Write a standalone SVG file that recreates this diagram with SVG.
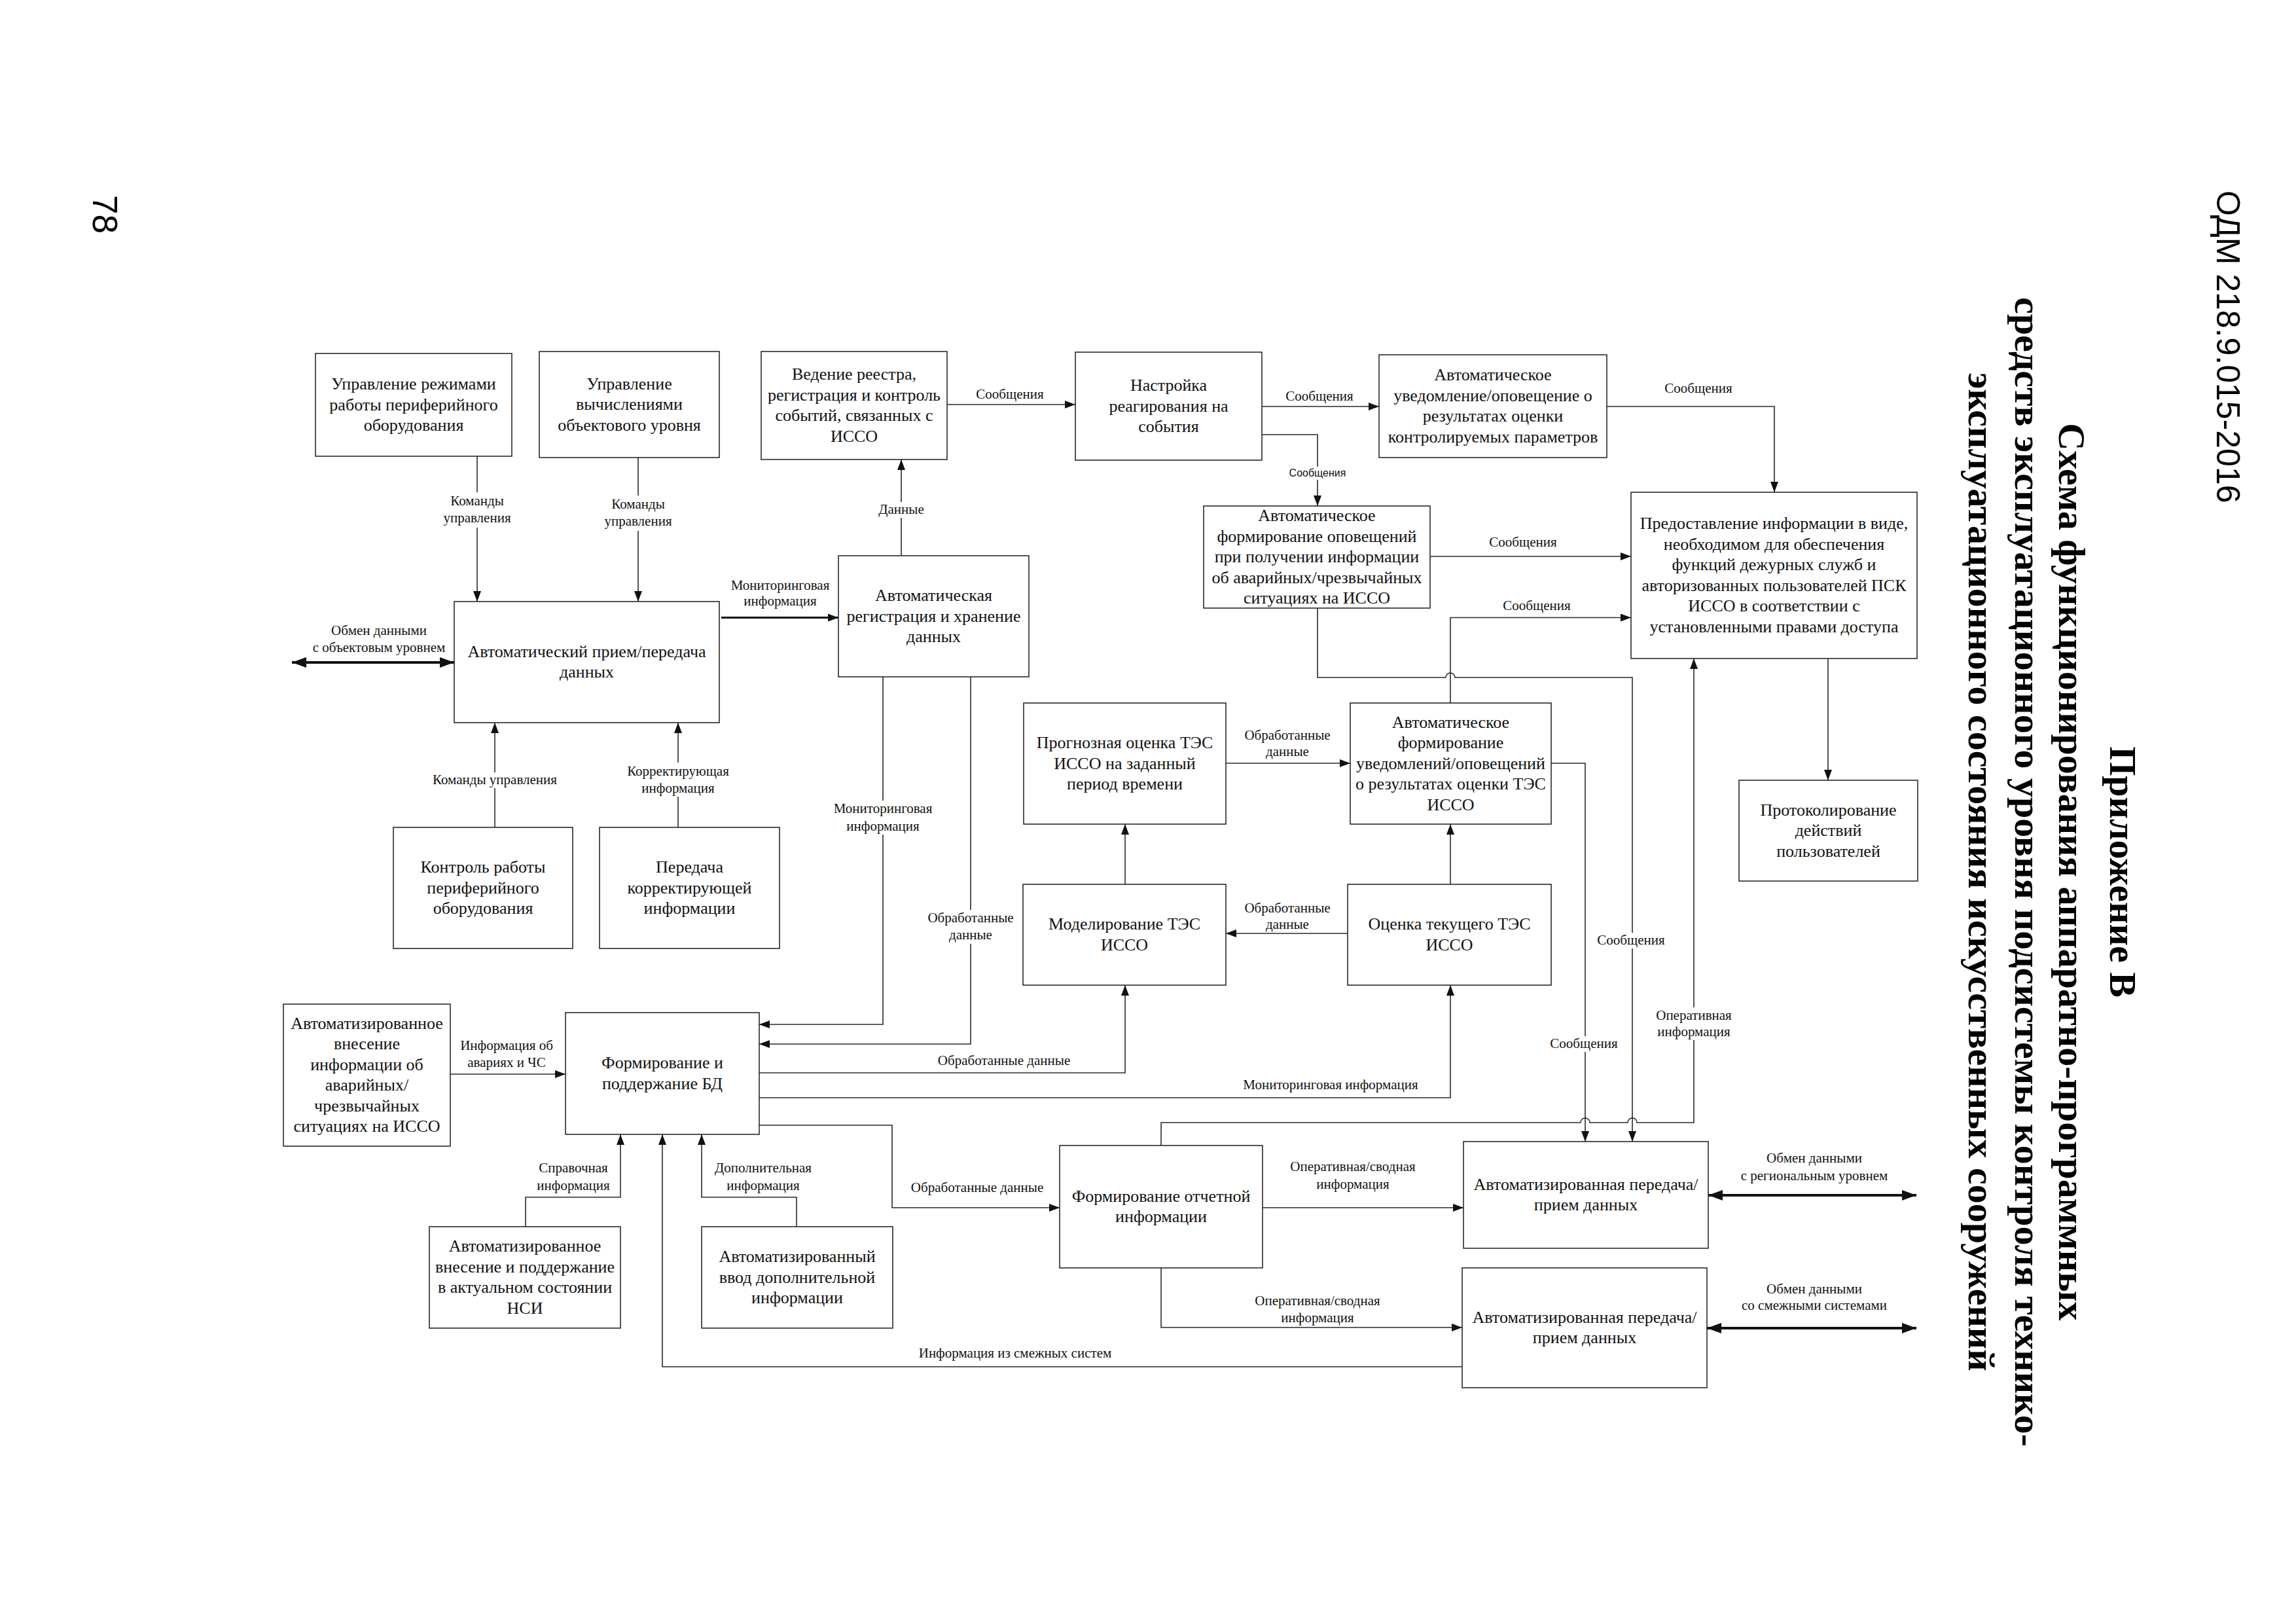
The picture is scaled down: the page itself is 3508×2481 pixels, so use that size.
<svg xmlns="http://www.w3.org/2000/svg" width="3508" height="2481" viewBox="0 0 3508 2481">
<style>
.box{fill:#fff;stroke:#2a2a2a;stroke-width:1.6}
.t{font-family:"Liberation Serif","Times New Roman",serif;font-size:26px;fill:#111;text-anchor:middle}
.lb{font-family:"Liberation Serif","Times New Roman",serif;font-size:21px;fill:#111;text-anchor:middle}
.ls{font-family:"Liberation Sans",Arial,sans-serif;font-size:16px;fill:#111;text-anchor:middle}
.e{fill:none;stroke:#2a2a2a;stroke-width:1.6;marker-end:url(#ah)}
.tk{fill:none;stroke:#111;stroke-width:3}
.dbl{fill:none;stroke:#111;stroke-width:4;marker-start:url(#ahb);marker-end:url(#ahb)}
.bg{fill:#fff}
.title{font-family:"Liberation Serif","Times New Roman",serif;font-weight:bold;font-size:58px;fill:#000;text-anchor:middle}
.hdr{font-family:"Liberation Sans",Arial,sans-serif;font-size:50px;fill:#000}
</style>
<defs>
<marker id="ah" markerUnits="userSpaceOnUse" markerWidth="16" markerHeight="12" refX="16" refY="6" orient="auto"><path d="M0,0 L16,6 L0,12 z" fill="#111"/></marker>
<marker id="ahb" markerUnits="userSpaceOnUse" markerWidth="22" markerHeight="16" refX="22" refY="8" orient="auto-start-reverse"><path d="M0,0 L22,8 L0,16 z" fill="#111"/></marker>
</defs>
<rect width="3508" height="2481" fill="#fff"/>

<!-- page header, number, title -->
<text class="hdr" transform="translate(3387,291) rotate(90)">ОДМ 218.9.015-2016</text>
<text class="hdr" style="font-size:53px" transform="translate(142,298) rotate(90)">78</text>
<text class="title" transform="translate(3224,1332) rotate(90)">Приложение В</text>
<text class="title" transform="translate(3146,1332) rotate(90)">Схема функционирования аппаратно-программных</text>
<text class="title" transform="translate(3079,1332) rotate(90)">средств эксплуатационного уровня подсистемы контроля технико-</text>
<text class="title" transform="translate(3008,1332) rotate(90)">эксплуатационного состояния искусственных сооружений</text>

<g id="connectors">
<path class="e" d="M729,697 V919"/>
<path class="e" d="M975,699 V919"/>
<path class="e" d="M756,1264 V1104"/>
<path class="e" d="M1036,1264 V1104"/>
<path class="dbl" d="M446,1012 H694"/>
<path class="tk" d="M1102,943.5 H1281" marker-end="url(#ah)"/>
<path class="e" d="M1377,849 V702"/>
<path class="e" d="M1447,618 H1643"/>
<path class="e" d="M1928,621 H2107"/>
<path class="e" d="M1928,664 H2013 V773"/>
<path class="e" d="M2455,621 H2711 V752"/>
<path class="e" d="M2185,850 H2492"/>
<path class="e" d="M2013,929 V1035 H2209 a7,7 0 0 1 14,0 H2494 V1744"/>
<path class="e" d="M2216,1074 V943.5 H2492"/>
<path class="e" d="M1873,1166 H2063"/>
<path class="e" d="M1719,1351 V1259"/>
<path class="e" d="M2216,1351 V1259"/>
<path class="e" d="M2059,1426 H1873"/>
<path class="e" d="M2370,1166 H2422 V1744"/>
<path class="e" d="M2793,1006 V1192"/>
<path class="e" d="M1349,1034 V1565 H1160"/>
<path class="e" d="M1483,1034 V1595 H1160"/>
<path class="e" d="M1160,1639 H1719 V1505"/>
<path class="e" d="M1160,1677 H2216 V1505"/>
<path class="e" d="M1160,1719 H1363 V1845 H1619"/>
<path class="e" d="M1774,1750 V1715 H2415 a7,7 0 0 1 14,0 H2487 a7,7 0 0 1 14,0 H2588 V1006"/>
<path class="e" d="M1929,1845 H2236"/>
<path class="e" d="M1774,1937 V2028 H2234"/>
<path class="e" d="M2234,2088 H1012 V1733"/>
<path class="e" d="M688,1641 H864"/>
<path class="e" d="M803,1874 V1829 H948 V1733"/>
<path class="e" d="M1217,1874 V1829 H1072 V1733"/>
<path class="dbl" d="M2610,1826 H2928"/>
<path class="dbl" d="M2608,2029 H2928"/>
</g>

<g id="label-backgrounds">
<rect class="bg" x="677" y="752" width="104" height="54"/>
<rect class="bg" x="923" y="757" width="104" height="54"/>
<rect class="bg" x="659" y="1180" width="194" height="24"/>
<rect class="bg" x="955" y="1165" width="162" height="52"/>
<rect class="bg" x="1340" y="767" width="74" height="24"/>
<rect class="bg" x="1267" y="1223" width="164" height="52"/>
<rect class="bg" x="1412" y="1390" width="142" height="52"/>
<rect class="bg" x="1970" y="713" width="86" height="20"/>
<rect class="bg" x="2440" y="1425" width="104" height="24"/>
<rect class="bg" x="2530" y="1539" width="116" height="50"/>
<rect class="bg" x="2368" y="1583" width="104" height="24"/>
</g>

<g id="labels">
<text class="lb" x="729" y="772">Команды<tspan x="729" y="798">управления</tspan></text>
<text class="lb" x="975" y="777">Команды<tspan x="975" y="803">управления</tspan></text>
<text class="lb" x="579" y="970">Обмен данными<tspan x="579" y="996">с объектовым уровнем</tspan></text>
<text class="lb" x="1192" y="901">Мониторинговая<tspan x="1192" y="925">информация</tspan></text>
<text class="lb" x="1377" y="785">Данные</text>
<text class="lb" x="1543" y="609">Сообщения</text>
<text class="lb" x="2016" y="612">Сообщения</text>
<text class="ls" x="2013" y="728">Сообщения</text>
<text class="lb" x="2595" y="600">Сообщения</text>
<text class="lb" x="2327" y="835">Сообщения</text>
<text class="lb" x="2348" y="932">Сообщения</text>
<text class="lb" x="1349" y="1242">Мониторинговая<tspan x="1349" y="1269">информация</tspan></text>
<text class="lb" x="1483" y="1409">Обработанные<tspan x="1483" y="1435">данные</tspan></text>
<text class="lb" x="1967" y="1130">Обработанные<tspan x="1967" y="1155">данные</tspan></text>
<text class="lb" x="1967" y="1394">Обработанные<tspan x="1967" y="1419">данные</tspan></text>
<text class="lb" x="756" y="1198">Команды управления</text>
<text class="lb" x="1036" y="1185">Корректирующая<tspan x="1036" y="1211">информация</tspan></text>
<text class="lb" x="2492" y="1443">Сообщения</text>
<text class="lb" x="2588" y="1558">Оперативная<tspan x="2588" y="1583">информация</tspan></text>
<text class="lb" x="2420" y="1601">Сообщения</text>
<text class="lb" x="774" y="1604">Информация об<tspan x="774" y="1630">авариях и ЧС</tspan></text>
<text class="lb" x="1534" y="1627">Обработанные данные</text>
<text class="lb" x="2033" y="1664">Мониторинговая информация</text>
<text class="lb" x="1493" y="1821">Обработанные данные</text>
<text class="lb" x="2067" y="1789">Оперативная/сводная<tspan x="2067" y="1816">информация</tspan></text>
<text class="lb" x="2013" y="1994">Оперативная/сводная<tspan x="2013" y="2020">информация</tspan></text>
<text class="lb" x="1551" y="2074">Информация из смежных систем</text>
<text class="lb" x="876" y="1791">Справочная<tspan x="876" y="1818">информация</tspan></text>
<text class="lb" x="1166" y="1791">Дополнительная<tspan x="1166" y="1818">информация</tspan></text>
<text class="lb" x="2772" y="1776">Обмен данными<tspan x="2772" y="1803">с региональным уровнем</tspan></text>
<text class="lb" x="2772" y="1976">Обмен данными<tspan x="2772" y="2001">со смежными системами</tspan></text>
</g>

<g id="n-A"><rect class="box" x="482" y="540" width="300" height="157"/>
<text class="t" x="632" y="595">Управление режимами<tspan x="632" y="626.5">работы периферийного</tspan><tspan x="632" y="658">оборудования</tspan></text></g>
<g id="n-B"><rect class="box" x="824" y="537" width="275" height="162"/>
<text class="t" x="961.5" y="594.5">Управление<tspan x="961.5" y="626">вычислениями</tspan><tspan x="961.5" y="657.5">объектового уровня</tspan></text></g>
<g id="n-C"><rect class="box" x="694" y="919" width="405" height="185"/>
<text class="t" x="896.5" y="1004">Автоматический прием/передача<tspan x="896.5" y="1035">данных</tspan></text></g>
<g id="n-D"><rect class="box" x="1163" y="537" width="284" height="165"/>
<text class="t" x="1305" y="580">Ведение реестра,<tspan x="1305" y="612">регистрация и контроль</tspan><tspan x="1305" y="643">событий, связанных с</tspan><tspan x="1305" y="675">ИССО</tspan></text></g>
<g id="n-E"><rect class="box" x="1643" y="538" width="285" height="165"/>
<text class="t" x="1785.5" y="597">Настройка<tspan x="1785.5" y="628.5">реагирования на</tspan><tspan x="1785.5" y="660">события</tspan></text></g>
<g id="n-F"><rect class="box" x="1281" y="849" width="291" height="185"/>
<text class="t" x="1426.5" y="918">Автоматическая<tspan x="1426.5" y="949.5">регистрация и хранение</tspan><tspan x="1426.5" y="981">данных</tspan></text></g>
<g id="n-G"><rect class="box" x="2107" y="542" width="348" height="157"/>
<text class="t" x="2281" y="581">Автоматическое<tspan x="2281" y="613">уведомление/оповещение о</tspan><tspan x="2281" y="644">результатах оценки</tspan><tspan x="2281" y="676">контролируемых параметров</tspan></text></g>
<g id="n-H"><rect class="box" x="1839" y="773" width="346" height="156"/>
<text class="t" x="2012" y="796">Автоматическое<tspan x="2012" y="827.5">формирование оповещений</tspan><tspan x="2012" y="859">при получении информации</tspan><tspan x="2012" y="890.5">об аварийных/чрезвычайных</tspan><tspan x="2012" y="922">ситуациях на ИССО</tspan></text></g>
<g id="n-I"><rect class="box" x="2492" y="752" width="437" height="254"/>
<text class="t" x="2710.5" y="808">Предоставление информации в виде,<tspan x="2710.5" y="840">необходимом для обеспечения</tspan><tspan x="2710.5" y="871">функций дежурных служб и</tspan><tspan x="2710.5" y="903">авторизованных пользователей ПСК</tspan><tspan x="2710.5" y="934">ИССО в соответствии с</tspan><tspan x="2710.5" y="966">установленными правами доступа</tspan></text></g>
<g id="n-J"><rect class="box" x="2063" y="1074" width="307" height="185"/>
<text class="t" x="2216.5" y="1111.5">Автоматическое<tspan x="2216.5" y="1143">формирование</tspan><tspan x="2216.5" y="1174.5">уведомлений/оповещений</tspan><tspan x="2216.5" y="1206">о результатах оценки ТЭС</tspan><tspan x="2216.5" y="1237.5">ИССО</tspan></text></g>
<g id="n-K"><rect class="box" x="1564" y="1074" width="309" height="185"/>
<text class="t" x="1718.5" y="1143">Прогнозная оценка ТЭС<tspan x="1718.5" y="1174.5">ИССО на заданный</tspan><tspan x="1718.5" y="1206">период времени</tspan></text></g>
<g id="n-L"><rect class="box" x="1563" y="1351" width="310" height="154"/>
<text class="t" x="1718" y="1420">Моделирование ТЭС<tspan x="1718" y="1452">ИССО</tspan></text></g>
<g id="n-M"><rect class="box" x="2059" y="1351" width="311" height="154"/>
<text class="t" x="2214.5" y="1420">Оценка текущего ТЭС<tspan x="2214.5" y="1452">ИССО</tspan></text></g>
<g id="n-N"><rect class="box" x="601" y="1264" width="274" height="185"/>
<text class="t" x="738" y="1333">Контроль работы<tspan x="738" y="1364.5">периферийного</tspan><tspan x="738" y="1396">оборудования</tspan></text></g>
<g id="n-O"><rect class="box" x="916" y="1264" width="275" height="185"/>
<text class="t" x="1053.5" y="1333">Передача<tspan x="1053.5" y="1364.5">корректирующей</tspan><tspan x="1053.5" y="1396">информации</tspan></text></g>
<g id="n-P"><rect class="box" x="433" y="1534" width="255" height="217"/>
<text class="t" x="560.5" y="1572">Автоматизированное<tspan x="560.5" y="1603">внесение</tspan><tspan x="560.5" y="1635">информации об</tspan><tspan x="560.5" y="1666">аварийных/</tspan><tspan x="560.5" y="1698">чрезвычайных</tspan><tspan x="560.5" y="1729">ситуациях на ИССО</tspan></text></g>
<g id="n-Q"><rect class="box" x="864" y="1547" width="296" height="186"/>
<text class="t" x="1012" y="1632">Формирование и<tspan x="1012" y="1664">поддержание БД</tspan></text></g>
<g id="n-R"><rect class="box" x="1619" y="1750" width="310" height="187"/>
<text class="t" x="1774" y="1835.5">Формирование отчетной<tspan x="1774" y="1867">информации</tspan></text></g>
<g id="n-S"><rect class="box" x="656" y="1874" width="292" height="155"/>
<text class="t" x="802" y="1912">Автоматизированное<tspan x="802" y="1944">внесение и поддержание</tspan><tspan x="802" y="1975">в актуальном состоянии</tspan><tspan x="802" y="2007">НСИ</tspan></text></g>
<g id="n-T"><rect class="box" x="1072" y="1874" width="292" height="155"/>
<text class="t" x="1218" y="1928">Автоматизированный<tspan x="1218" y="1959.5">ввод дополнительной</tspan><tspan x="1218" y="1991">информации</tspan></text></g>
<g id="n-U"><rect class="box" x="2657" y="1192" width="273" height="154"/>
<text class="t" x="2793.5" y="1245.5">Протоколирование<tspan x="2793.5" y="1277">действий</tspan><tspan x="2793.5" y="1308.5">пользователей</tspan></text></g>
<g id="n-V"><rect class="box" x="2236" y="1744" width="374" height="163"/>
<text class="t" x="2423" y="1818">Автоматизированная передача/<tspan x="2423" y="1849">прием данных</tspan></text></g>
<g id="n-W"><rect class="box" x="2234" y="1937" width="374" height="183"/>
<text class="t" x="2421" y="2021">Автоматизированная передача/<tspan x="2421" y="2052">прием данных</tspan></text></g>
</svg>
